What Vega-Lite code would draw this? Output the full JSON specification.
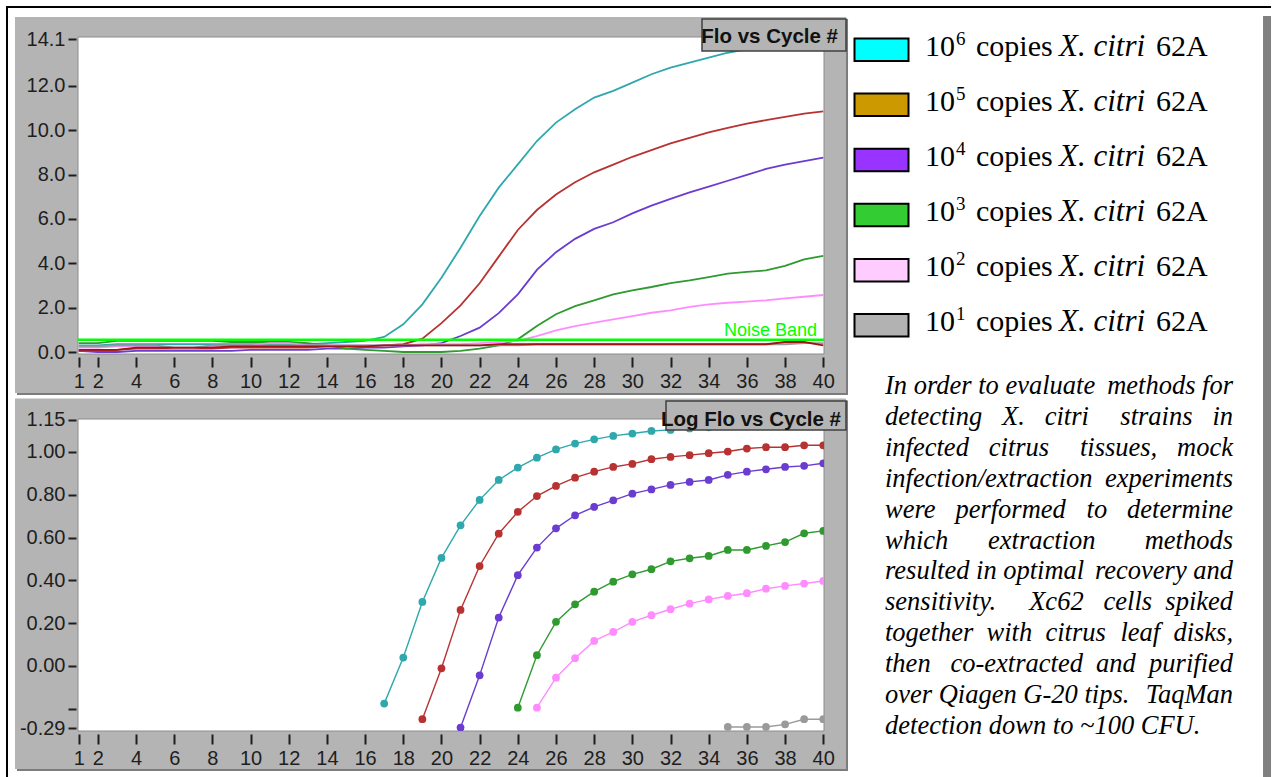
{
"$schema":"https://vega.github.io/schema/vega-lite/v6.json",
"padding":{"left":5,"top":5,"right":0,"bottom":0},
"background":"white",
"config":{"view":{"stroke":null},
 "axis":{"labelFont":"Liberation Sans","labelFontSize":20,"labelColor":"#1e1e1e","tickColor":"#1e1e1e","tickWidth":2,"domain":false,"grid":false,"zindex":1,"labelOverlap":false,"labelFlush":false}},
"datasets":{
"flo":[
{"c":1,"s":"e6","v":0.3},{"c":2,"s":"e6","v":0.3},{"c":3,"s":"e6","v":0.35},{"c":4,"s":"e6","v":0.35},{"c":5,"s":"e6","v":0.35},{"c":6,"s":"e6","v":0.35},{"c":7,"s":"e6","v":0.35},{"c":8,"s":"e6","v":0.35},{"c":9,"s":"e6","v":0.35},{"c":10,"s":"e6","v":0.35},{"c":11,"s":"e6","v":0.35},{"c":12,"s":"e6","v":0.35},{"c":13,"s":"e6","v":0.35},{"c":14,"s":"e6","v":0.4},{"c":15,"s":"e6","v":0.45},{"c":16,"s":"e6","v":0.5},{"c":17,"s":"e6","v":0.68},{"c":18,"s":"e6","v":1.25},{"c":19,"s":"e6","v":2.15},{"c":20,"s":"e6","v":3.35},{"c":21,"s":"e6","v":4.7},{"c":22,"s":"e6","v":6.13},{"c":23,"s":"e6","v":7.41},{"c":24,"s":"e6","v":8.46},{"c":25,"s":"e6","v":9.51},{"c":26,"s":"e6","v":10.34},{"c":27,"s":"e6","v":10.94},{"c":28,"s":"e6","v":11.47},{"c":29,"s":"e6","v":11.77},{"c":30,"s":"e6","v":12.14},{"c":31,"s":"e6","v":12.52},{"c":32,"s":"e6","v":12.82},{"c":33,"s":"e6","v":13.04},{"c":34,"s":"e6","v":13.27},{"c":35,"s":"e6","v":13.49},{"c":36,"s":"e6","v":13.65},{"c":37,"s":"e6","v":13.8},{"c":38,"s":"e6","v":13.92},{"c":39,"s":"e6","v":14.02},{"c":40,"s":"e6","v":14.1},
{"c":1,"s":"e5","v":0.05},{"c":2,"s":"e5","v":0.05},{"c":3,"s":"e5","v":0.1},{"c":4,"s":"e5","v":0.15},{"c":5,"s":"e5","v":0.15},{"c":6,"s":"e5","v":0.15},{"c":7,"s":"e5","v":0.15},{"c":8,"s":"e5","v":0.15},{"c":9,"s":"e5","v":0.2},{"c":10,"s":"e5","v":0.2},{"c":11,"s":"e5","v":0.2},{"c":12,"s":"e5","v":0.2},{"c":13,"s":"e5","v":0.2},{"c":14,"s":"e5","v":0.25},{"c":15,"s":"e5","v":0.25},{"c":16,"s":"e5","v":0.25},{"c":17,"s":"e5","v":0.3},{"c":18,"s":"e5","v":0.35},{"c":19,"s":"e5","v":0.6},{"c":20,"s":"e5","v":1.3},{"c":21,"s":"e5","v":2.1},{"c":22,"s":"e5","v":3.1},{"c":23,"s":"e5","v":4.3},{"c":24,"s":"e5","v":5.5},{"c":25,"s":"e5","v":6.4},{"c":26,"s":"e5","v":7.1},{"c":27,"s":"e5","v":7.65},{"c":28,"s":"e5","v":8.1},{"c":29,"s":"e5","v":8.45},{"c":30,"s":"e5","v":8.8},{"c":31,"s":"e5","v":9.1},{"c":32,"s":"e5","v":9.4},{"c":33,"s":"e5","v":9.65},{"c":34,"s":"e5","v":9.9},{"c":35,"s":"e5","v":10.1},{"c":36,"s":"e5","v":10.3},{"c":37,"s":"e5","v":10.45},{"c":38,"s":"e5","v":10.6},{"c":39,"s":"e5","v":10.75},{"c":40,"s":"e5","v":10.85},
{"c":1,"s":"e4","v":0.05},{"c":2,"s":"e4","v":0},{"c":3,"s":"e4","v":0},{"c":4,"s":"e4","v":0.05},{"c":5,"s":"e4","v":0.05},{"c":6,"s":"e4","v":0.05},{"c":7,"s":"e4","v":0.05},{"c":8,"s":"e4","v":0.05},{"c":9,"s":"e4","v":0.05},{"c":10,"s":"e4","v":0.1},{"c":11,"s":"e4","v":0.1},{"c":12,"s":"e4","v":0.1},{"c":13,"s":"e4","v":0.1},{"c":14,"s":"e4","v":0.15},{"c":15,"s":"e4","v":0.15},{"c":16,"s":"e4","v":0.2},{"c":17,"s":"e4","v":0.2},{"c":18,"s":"e4","v":0.25},{"c":19,"s":"e4","v":0.3},{"c":20,"s":"e4","v":0.4},{"c":21,"s":"e4","v":0.72},{"c":22,"s":"e4","v":1.1},{"c":23,"s":"e4","v":1.75},{"c":24,"s":"e4","v":2.6},{"c":25,"s":"e4","v":3.7},{"c":26,"s":"e4","v":4.5},{"c":27,"s":"e4","v":5.1},{"c":28,"s":"e4","v":5.55},{"c":29,"s":"e4","v":5.85},{"c":30,"s":"e4","v":6.25},{"c":31,"s":"e4","v":6.6},{"c":32,"s":"e4","v":6.9},{"c":33,"s":"e4","v":7.2},{"c":34,"s":"e4","v":7.45},{"c":35,"s":"e4","v":7.72},{"c":36,"s":"e4","v":7.98},{"c":37,"s":"e4","v":8.25},{"c":38,"s":"e4","v":8.45},{"c":39,"s":"e4","v":8.6},{"c":40,"s":"e4","v":8.76},
{"c":1,"s":"e3","v":0.4},{"c":2,"s":"e3","v":0.4},{"c":3,"s":"e3","v":0.5},{"c":4,"s":"e3","v":0.5},{"c":5,"s":"e3","v":0.5},{"c":6,"s":"e3","v":0.5},{"c":7,"s":"e3","v":0.5},{"c":8,"s":"e3","v":0.5},{"c":9,"s":"e3","v":0.45},{"c":10,"s":"e3","v":0.45},{"c":11,"s":"e3","v":0.45},{"c":12,"s":"e3","v":0.45},{"c":13,"s":"e3","v":0.4},{"c":14,"s":"e3","v":0.3},{"c":15,"s":"e3","v":0.15},{"c":16,"s":"e3","v":0.1},{"c":17,"s":"e3","v":0.05},{"c":18,"s":"e3","v":0},{"c":19,"s":"e3","v":0},{"c":20,"s":"e3","v":0},{"c":21,"s":"e3","v":0.05},{"c":22,"s":"e3","v":0.15},{"c":23,"s":"e3","v":0.3},{"c":24,"s":"e3","v":0.57},{"c":25,"s":"e3","v":1.17},{"c":26,"s":"e3","v":1.7},{"c":27,"s":"e3","v":2.07},{"c":28,"s":"e3","v":2.33},{"c":29,"s":"e3","v":2.6},{"c":30,"s":"e3","v":2.78},{"c":31,"s":"e3","v":2.93},{"c":32,"s":"e3","v":3.1},{"c":33,"s":"e3","v":3.23},{"c":34,"s":"e3","v":3.38},{"c":35,"s":"e3","v":3.53},{"c":36,"s":"e3","v":3.61},{"c":37,"s":"e3","v":3.68},{"c":38,"s":"e3","v":3.88},{"c":39,"s":"e3","v":4.18},{"c":40,"s":"e3","v":4.33},
{"c":1,"s":"e2","v":0.2},{"c":2,"s":"e2","v":0.2},{"c":3,"s":"e2","v":0.25},{"c":4,"s":"e2","v":0.25},{"c":5,"s":"e2","v":0.25},{"c":6,"s":"e2","v":0.2},{"c":7,"s":"e2","v":0.2},{"c":8,"s":"e2","v":0.25},{"c":9,"s":"e2","v":0.3},{"c":10,"s":"e2","v":0.3},{"c":11,"s":"e2","v":0.4},{"c":12,"s":"e2","v":0.4},{"c":13,"s":"e2","v":0.3},{"c":14,"s":"e2","v":0.3},{"c":15,"s":"e2","v":0.3},{"c":16,"s":"e2","v":0.3},{"c":17,"s":"e2","v":0.3},{"c":18,"s":"e2","v":0.3},{"c":19,"s":"e2","v":0.35},{"c":20,"s":"e2","v":0.35},{"c":21,"s":"e2","v":0.35},{"c":22,"s":"e2","v":0.4},{"c":23,"s":"e2","v":0.45},{"c":24,"s":"e2","v":0.5},{"c":25,"s":"e2","v":0.72},{"c":26,"s":"e2","v":0.98},{"c":27,"s":"e2","v":1.17},{"c":28,"s":"e2","v":1.32},{"c":29,"s":"e2","v":1.47},{"c":30,"s":"e2","v":1.62},{"c":31,"s":"e2","v":1.77},{"c":32,"s":"e2","v":1.88},{"c":33,"s":"e2","v":2.03},{"c":34,"s":"e2","v":2.15},{"c":35,"s":"e2","v":2.22},{"c":36,"s":"e2","v":2.27},{"c":37,"s":"e2","v":2.33},{"c":38,"s":"e2","v":2.42},{"c":39,"s":"e2","v":2.49},{"c":40,"s":"e2","v":2.57},
{"c":1,"s":"e1","v":0.25},{"c":2,"s":"e1","v":0.25},{"c":3,"s":"e1","v":0.3},{"c":4,"s":"e1","v":0.3},{"c":5,"s":"e1","v":0.3},{"c":6,"s":"e1","v":0.2},{"c":7,"s":"e1","v":0.2},{"c":8,"s":"e1","v":0.3},{"c":9,"s":"e1","v":0.3},{"c":10,"s":"e1","v":0.3},{"c":11,"s":"e1","v":0.3},{"c":12,"s":"e1","v":0.3},{"c":13,"s":"e1","v":0.3},{"c":14,"s":"e1","v":0.3},{"c":15,"s":"e1","v":0.3},{"c":16,"s":"e1","v":0.3},{"c":17,"s":"e1","v":0.3},{"c":18,"s":"e1","v":0.3},{"c":19,"s":"e1","v":0.3},{"c":20,"s":"e1","v":0.3},{"c":21,"s":"e1","v":0.3},{"c":22,"s":"e1","v":0.3},{"c":23,"s":"e1","v":0.3},{"c":24,"s":"e1","v":0.3},{"c":25,"s":"e1","v":0.35},{"c":26,"s":"e1","v":0.35},{"c":27,"s":"e1","v":0.35},{"c":28,"s":"e1","v":0.35},{"c":29,"s":"e1","v":0.35},{"c":30,"s":"e1","v":0.35},{"c":31,"s":"e1","v":0.35},{"c":32,"s":"e1","v":0.35},{"c":33,"s":"e1","v":0.35},{"c":34,"s":"e1","v":0.35},{"c":35,"s":"e1","v":0.35},{"c":36,"s":"e1","v":0.35},{"c":37,"s":"e1","v":0.35},{"c":38,"s":"e1","v":0.35},{"c":39,"s":"e1","v":0.4},{"c":40,"s":"e1","v":0.4},
{"c":1,"s":"ntc","v":0.1},{"c":2,"s":"ntc","v":0.1},{"c":3,"s":"ntc","v":0.1},{"c":4,"s":"ntc","v":0.2},{"c":5,"s":"ntc","v":0.2},{"c":6,"s":"ntc","v":0.2},{"c":7,"s":"ntc","v":0.2},{"c":8,"s":"ntc","v":0.2},{"c":9,"s":"ntc","v":0.25},{"c":10,"s":"ntc","v":0.25},{"c":11,"s":"ntc","v":0.25},{"c":12,"s":"ntc","v":0.25},{"c":13,"s":"ntc","v":0.25},{"c":14,"s":"ntc","v":0.25},{"c":15,"s":"ntc","v":0.25},{"c":16,"s":"ntc","v":0.25},{"c":17,"s":"ntc","v":0.3},{"c":18,"s":"ntc","v":0.3},{"c":19,"s":"ntc","v":0.3},{"c":20,"s":"ntc","v":0.3},{"c":21,"s":"ntc","v":0.3},{"c":22,"s":"ntc","v":0.3},{"c":23,"s":"ntc","v":0.35},{"c":24,"s":"ntc","v":0.35},{"c":25,"s":"ntc","v":0.35},{"c":26,"s":"ntc","v":0.35},{"c":27,"s":"ntc","v":0.35},{"c":28,"s":"ntc","v":0.35},{"c":29,"s":"ntc","v":0.35},{"c":30,"s":"ntc","v":0.35},{"c":31,"s":"ntc","v":0.35},{"c":32,"s":"ntc","v":0.35},{"c":33,"s":"ntc","v":0.35},{"c":34,"s":"ntc","v":0.35},{"c":35,"s":"ntc","v":0.35},{"c":36,"s":"ntc","v":0.35},{"c":37,"s":"ntc","v":0.35},{"c":38,"s":"ntc","v":0.45},{"c":39,"s":"ntc","v":0.45},{"c":40,"s":"ntc","v":0.3}
],
"log":[
{"c":17,"s":"e6","v":-0.176},{"c":18,"s":"e6","v":0.039},{"c":19,"s":"e6","v":0.299},{"c":20,"s":"e6","v":0.505},{"c":21,"s":"e6","v":0.657},{"c":22,"s":"e6","v":0.776},{"c":23,"s":"e6","v":0.869},{"c":24,"s":"e6","v":0.927},{"c":25,"s":"e6","v":0.973},{"c":26,"s":"e6","v":1.012},{"c":27,"s":"e6","v":1.039},{"c":28,"s":"e6","v":1.059},{"c":29,"s":"e6","v":1.075},{"c":30,"s":"e6","v":1.086},{"c":31,"s":"e6","v":1.098},{"c":32,"s":"e6","v":1.103},{"c":33,"s":"e6","v":1.11},{"c":34,"s":"e6","v":1.115},{"c":35,"s":"e6","v":1.12},{"c":36,"s":"e6","v":1.125},{"c":37,"s":"e6","v":1.13},{"c":38,"s":"e6","v":1.135},{"c":39,"s":"e6","v":1.14},{"c":40,"s":"e6","v":1.145},
{"c":19,"s":"e5","v":-0.249},{"c":20,"s":"e5","v":-0.011},{"c":21,"s":"e5","v":0.262},{"c":22,"s":"e5","v":0.467},{"c":23,"s":"e5","v":0.618},{"c":24,"s":"e5","v":0.72},{"c":25,"s":"e5","v":0.794},{"c":26,"s":"e5","v":0.841},{"c":27,"s":"e5","v":0.88},{"c":28,"s":"e5","v":0.908},{"c":29,"s":"e5","v":0.93},{"c":30,"s":"e5","v":0.944},{"c":31,"s":"e5","v":0.966},{"c":32,"s":"e5","v":0.977},{"c":33,"s":"e5","v":0.985},{"c":34,"s":"e5","v":0.994},{"c":35,"s":"e5","v":1.002},{"c":36,"s":"e5","v":1.016},{"c":37,"s":"e5","v":1.022},{"c":38,"s":"e5","v":1.022},{"c":39,"s":"e5","v":1.031},{"c":40,"s":"e5","v":1.031},
{"c":21,"s":"e4","v":-0.288},{"c":22,"s":"e4","v":-0.044},{"c":23,"s":"e4","v":0.226},{"c":24,"s":"e4","v":0.424},{"c":25,"s":"e4","v":0.553},{"c":26,"s":"e4","v":0.643},{"c":27,"s":"e4","v":0.704},{"c":28,"s":"e4","v":0.743},{"c":29,"s":"e4","v":0.774},{"c":30,"s":"e4","v":0.805},{"c":31,"s":"e4","v":0.825},{"c":32,"s":"e4","v":0.846},{"c":33,"s":"e4","v":0.86},{"c":34,"s":"e4","v":0.869},{"c":35,"s":"e4","v":0.893},{"c":36,"s":"e4","v":0.908},{"c":37,"s":"e4","v":0.919},{"c":38,"s":"e4","v":0.93},{"c":39,"s":"e4","v":0.935},{"c":40,"s":"e4","v":0.947},
{"c":24,"s":"e3","v":-0.195},{"c":25,"s":"e3","v":0.05},{"c":26,"s":"e3","v":0.206},{"c":27,"s":"e3","v":0.288},{"c":28,"s":"e3","v":0.347},{"c":29,"s":"e3","v":0.394},{"c":30,"s":"e3","v":0.428},{"c":31,"s":"e3","v":0.452},{"c":32,"s":"e3","v":0.489},{"c":33,"s":"e3","v":0.503},{"c":34,"s":"e3","v":0.514},{"c":35,"s":"e3","v":0.542},{"c":36,"s":"e3","v":0.542},{"c":37,"s":"e3","v":0.561},{"c":38,"s":"e3","v":0.579},{"c":39,"s":"e3","v":0.62},{"c":40,"s":"e3","v":0.631},
{"c":25,"s":"e2","v":-0.195},{"c":26,"s":"e2","v":-0.055},{"c":27,"s":"e2","v":0.036},{"c":28,"s":"e2","v":0.117},{"c":29,"s":"e2","v":0.159},{"c":30,"s":"e2","v":0.206},{"c":31,"s":"e2","v":0.237},{"c":32,"s":"e2","v":0.265},{"c":33,"s":"e2","v":0.291},{"c":34,"s":"e2","v":0.311},{"c":35,"s":"e2","v":0.327},{"c":36,"s":"e2","v":0.34},{"c":37,"s":"e2","v":0.361},{"c":38,"s":"e2","v":0.374},{"c":39,"s":"e2","v":0.385},{"c":40,"s":"e2","v":0.397},
{"c":35,"s":"e1","v":-0.285},{"c":36,"s":"e1","v":-0.285},{"c":37,"s":"e1","v":-0.285},{"c":38,"s":"e1","v":-0.273},{"c":39,"s":"e1","v":-0.249},{"c":40,"s":"e1","v":-0.249}
],
"leg":[{"row":1,"exp":"6"},{"row":2,"exp":"5"},{"row":3,"exp":"4"},{"row":4,"exp":"3"},{"row":5,"exp":"2"},{"row":6,"exp":"1"}],
"para":[
{"line":1,"L":"In order to evaluate","R":"methods for"},
{"line":2,"L":"detecting\u00a0\u00a0\u00a0X.\u00a0\u00a0\u00a0citri","R":"strains\u00a0\u00a0\u00a0in"},
{"line":3,"L":"infected\u00a0\u00a0\u00a0citrus","R":"tissues,\u00a0\u00a0\u00a0mock"},
{"line":4,"L":"infection/extraction","R":"experiments"},
{"line":5,"L":"were\u00a0\u00a0\u00a0performed","R":"to\u00a0\u00a0\u00a0determine"},
{"line":6,"L":"which\u00a0\u00a0\u00a0\u00a0\u00a0\u00a0extraction","R":"methods"},
{"line":7,"L":"resulted in optimal","R":"recovery and"},
{"line":8,"L":"sensitivity.","R":"Xc62\u00a0\u00a0\u00a0cells\u00a0\u00a0spiked"},
{"line":9,"L":"together\u00a0\u00a0with\u00a0\u00a0citrus","R":"leaf\u00a0\u00a0disks,"},
{"line":10,"L":"then\u00a0\u00a0\u00a0co-extracted","R":"and\u00a0\u00a0purified"},
{"line":11,"L":"over Qiagen G-20 tips.","R":"TaqMan"},
{"line":12,"L":"detection down to ~100 CFU.","R":""}
]
},
"spacing":65,
"bounds":"flush",
"vconcat":[
 {"width":746,"height":317,
  "resolve":{"scale":{"y":"independent"}},
  "layer":[
   {"layer":[
   {"data":{"values":[{}]},"mark":{"type":"rect","fill":"#000000"},"encoding":{
     "x":{"datum":-2.812,"type":"quantitative","scale":{"domain":[0.96,40.04],"nice":false,"zero":false}},
     "x2":{"datum":63.458},
     "y":{"datum":15.5975,"type":"quantitative","scale":{"domain":[-0.09,14.2],"nice":false,"zero":false}},
     "y2":{"datum":15.5073}}},
   {"data":{"values":[{}]},"mark":{"type":"rect","fill":"#000000"},"encoding":{
     "x":{"datum":-2.812,"type":"quantitative"},"x2":{"datum":-2.707},
     "y":{"datum":15.5975,"type":"quantitative"},"y2":{"datum":-19.204}}},
   {"data":{"values":[{}]},"mark":{"type":"rect","fill":"#808080"},"encoding":{
     "x":{"datum":63.039,"type":"quantitative"},"x2":{"datum":63.458},
     "y":{"datum":15.1467,"type":"quantitative"},"y2":{"datum":-19.204}}},
   {"data":{"values":[{}]},"mark":{"type":"rect","fill":"#7c7c7c"},"encoding":{
     "x":{"datum":-2.236,"type":"quantitative"},"x2":{"datum":41.298},
     "y":{"datum":15.0114,"type":"quantitative"},"y2":{"datum":-1.938}}},
   {"data":{"values":[{}]},"mark":{"type":"rect","fill":"#b4b4b4"},"encoding":{
     "x":{"datum":-2.34,"type":"quantitative"},"x2":{"datum":41.193},
     "y":{"datum":15.1016,"type":"quantitative"},"y2":{"datum":-1.848}}},
   {"data":{"values":[{}]},"mark":{"type":"rect","fill":"#ffffff","stroke":"#8c8c8c","strokeWidth":1},"encoding":{
     "x":{"datum":0.96,"type":"quantitative"},"x2":{"datum":40.04},
     "y":{"datum":14.2,"type":"quantitative"},"y2":{"datum":-0.09}}},
   {"data":{"name":"flo"},"mark":{"type":"line","strokeWidth":1.8,"clip":true},"encoding":{
     "x":{"field":"c","type":"quantitative","scale":{"domain":[0.96,40.04],"nice":false,"zero":false},
       "axis":{"values":[1,2,4,6,8,10,12,14,16,18,20,22,24,26,28,30,32,34,36,38,40],"tickCount":60,"format":"d","title":null,"tickSize":10,"offset":3,"labelPadding":4,"zindex":2,"labelOverlap":false,"labelFlush":false,"labelFont":"Liberation Sans","labelFontSize":20,"labelColor":"#1e1e1e","tickColor":"#1e1e1e","tickWidth":2,"domain":false,"grid":false}},
     "y":{"field":"v","type":"quantitative","scale":{"domain":[-0.09,14.2],"nice":false,"zero":false},
       "axis":{"values":[0,2,4,6,8,10,12,14.1],"tickCount":60,"format":".1f","title":null,"tickSize":8,"offset":2,"labelPadding":3,"zindex":2,"labelOverlap":false,"labelFlush":false,"labelFont":"Liberation Sans","labelFontSize":20,"labelColor":"#1e1e1e","tickColor":"#1e1e1e","tickWidth":2,"domain":false,"grid":false}},
     "color":{"field":"s","type":"nominal","scale":{"domain":["ntc","e1","e2","e3","e4","e5","e6"],"range":["#a01414","#9a9a9a","#ff8cff","#2f9a2f","#6a3ccf","#b83232","#2fa8ad"]},"legend":null}}},
   {"data":{"values":[{}]},"mark":{"type":"rule","color":"#00ff00","strokeWidth":2.5},"encoding":{
     "x":{"datum":0.96,"type":"quantitative"},"x2":{"datum":40.04},
     "y":{"datum":0.55,"type":"quantitative"}}},
   {"data":{"values":[{}]},"mark":{"type":"text","text":"Noise Band","color":"#00ff00","font":"Liberation Sans","fontSize":18,"align":"right","baseline":"alphabetic"},"encoding":{
     "x":{"datum":39.674,"type":"quantitative"},
     "y":{"datum":0.72,"type":"quantitative"}}},
   {"data":{"values":[{}]},"mark":{"type":"rect","fill":"#b4b4b4","stroke":"#404040","strokeWidth":1.5},"encoding":{
     "x":{"datum":33.649,"type":"quantitative"},"x2":{"datum":41.193},
     "y":{"datum":15.0114,"type":"quantitative"},"y2":{"datum":13.569}}},
   {"data":{"values":[{}]},"mark":{"type":"text","text":"Flo vs Cycle #","color":"#111111","font":"Liberation Sans","fontWeight":"bold","fontSize":20.5,"align":"right","baseline":"alphabetic"},"encoding":{
     "x":{"datum":40.774,"type":"quantitative"},
     "y":{"datum":13.93,"type":"quantitative"}}}
   ]},
   {"data":{"name":"leg"},
    "layer":[
    {"mark":{"type":"rect","stroke":"#000000","strokeWidth":2,"yOffset":-17,"y2Offset":5.5},"encoding":{
      "x":{"datum":41.638,"type":"quantitative","scale":{"domain":[0.96,40.04],"nice":false,"zero":false}},"x2":{"datum":44.467},
      "y":{"field":"row","type":"quantitative","scale":{"domain":[0.6642,6.4174],"nice":false,"zero":false,"reverse":true},"axis":null},
      "y2":{"field":"row"},
      "fill":{"field":"exp","type":"nominal","scale":{"domain":["6","5","4","3","2","1"],"range":["#00ffff","#cc9900","#9933ff","#33cc33","#ffccff","#b2b2b2"]},"legend":null}}},
    {"mark":{"type":"text","text":"10","font":"Liberation Serif","fontSize":30,"color":"#000000","align":"left","baseline":"alphabetic"},"encoding":{
      "x":{"datum":45.332,"type":"quantitative"},
      "y":{"field":"row","type":"quantitative","axis":null}}},
    {"mark":{"type":"text","font":"Liberation Serif","fontSize":19,"color":"#000000","align":"left","baseline":"alphabetic","dy":-11},"encoding":{
      "x":{"datum":46.956,"type":"quantitative"},
      "y":{"field":"row","type":"quantitative","axis":null},
      "text":{"field":"exp"}}},
    {"mark":{"type":"text","text":"copies","font":"Liberation Serif","fontSize":30,"color":"#000000","align":"left","baseline":"alphabetic"},"encoding":{
      "x":{"datum":48.004,"type":"quantitative"},
      "y":{"field":"row","type":"quantitative","axis":null}}},
    {"mark":{"type":"text","text":"X. citri","font":"Liberation Serif","fontStyle":"italic","fontSize":31,"color":"#000000","align":"left","baseline":"alphabetic"},"encoding":{
      "x":{"datum":52.352,"type":"quantitative"},
      "y":{"field":"row","type":"quantitative","axis":null}}},
    {"mark":{"type":"text","text":"62A","font":"Liberation Serif","fontSize":30,"color":"#000000","align":"left","baseline":"alphabetic"},"encoding":{
      "x":{"datum":57.433,"type":"quantitative"},
      "y":{"field":"row","type":"quantitative","axis":null}}}
    ]}
  ]},
 {"width":746,"height":312,
  "resolve":{"scale":{"y":"independent"}},
  "layer":[
   {"layer":[
   {"data":{"values":[{}]},"mark":{"type":"rect","fill":"#7c7c7c"},"encoding":{
     "x":{"datum":-2.236,"type":"quantitative","scale":{"domain":[0.96,40.04],"nice":false,"zero":false}},"x2":{"datum":41.298},
     "y":{"datum":1.2404,"type":"quantitative","scale":{"domain":[-0.304,1.154],"nice":false,"zero":false}},"y2":{"datum":-0.4909}}},
   {"data":{"values":[{}]},"mark":{"type":"rect","fill":"#b4b4b4"},"encoding":{
     "x":{"datum":-2.34,"type":"quantitative"},"x2":{"datum":41.193},
     "y":{"datum":1.2498,"type":"quantitative"},"y2":{"datum":-0.4815}}},
   {"data":{"values":[{}]},"mark":{"type":"rect","fill":"#ffffff","stroke":"#8c8c8c","strokeWidth":1},"encoding":{
     "x":{"datum":0.96,"type":"quantitative"},"x2":{"datum":40.04},
     "y":{"datum":1.154,"type":"quantitative"},"y2":{"datum":-0.304}}},
   {"data":{"name":"log"},"mark":{"type":"line","strokeWidth":1.4,"clip":true,"point":{"filled":true,"size":60}},"encoding":{
     "x":{"field":"c","type":"quantitative","scale":{"domain":[0.96,40.04],"nice":false,"zero":false},
       "axis":{"values":[1,2,4,6,8,10,12,14,16,18,20,22,24,26,28,30,32,34,36,38,40],"tickCount":60,"format":"d","title":null,"tickSize":10,"offset":3,"labelPadding":4,"zindex":2,"labelOverlap":false,"labelFlush":false,"labelFont":"Liberation Sans","labelFontSize":20,"labelColor":"#1e1e1e","tickColor":"#1e1e1e","tickWidth":2,"domain":false,"grid":false}},
     "y":{"field":"v","type":"quantitative","scale":{"domain":[-0.304,1.154],"nice":false,"zero":false},
       "axis":{"values":[-0.29,-0.2,0,0.2,0.4,0.6,0.8,1.0,1.15],"tickCount":60,"format":".2f","title":null,"tickSize":8,"offset":2,"labelPadding":3,"zindex":2,"labelOverlap":false,"labelFlush":false,"labelFont":"Liberation Sans","labelFontSize":20,"labelColor":"#1e1e1e","tickColor":"#1e1e1e","tickWidth":2,"domain":false,"grid":false,
         "labelExpr":"datum.value < -0.25 ? '-0.29' : (datum.value < -0.1 ? '' : datum.label)"}},
     "color":{"field":"s","type":"nominal","scale":{"domain":["e1","e2","e3","e4","e5","e6"],"range":["#8c8c8c","#ff8cff","#0a900a","#3a0c9c","#9c0c0c","#139a9c"]},"legend":null}}},
   {"data":{"values":[{}]},"mark":{"type":"rect","fill":"#b4b4b4","stroke":"#404040","strokeWidth":1.5},"encoding":{
     "x":{"datum":31.764,"type":"quantitative"},"x2":{"datum":41.193},
     "y":{"datum":1.2381,"type":"quantitative"},"y2":{"datum":1.1026}}},
   {"data":{"values":[{}]},"mark":{"type":"text","text":"Log Flo vs Cycle #","color":"#111111","font":"Liberation Sans","fontWeight":"bold","fontSize":20.5,"align":"right","baseline":"alphabetic"},"encoding":{
     "x":{"datum":40.931,"type":"quantitative"},
     "y":{"datum":1.1213,"type":"quantitative"}}}
   ]},
   {"data":{"name":"para"},
    "layer":[
    {"mark":{"type":"text","font":"Liberation Serif","fontStyle":"italic","fontSize":26.5,"color":"#000000","align":"left","baseline":"alphabetic"},"encoding":{
      "x":{"datum":43.236,"type":"quantitative","scale":{"domain":[0.96,40.04],"nice":false,"zero":false}},
      "y":{"field":"line","type":"quantitative","scale":{"domain":[1.8006,11.914],"nice":false,"zero":false,"reverse":true},"axis":null},
      "text":{"field":"L"}}},
    {"mark":{"type":"text","font":"Liberation Serif","fontStyle":"italic","fontSize":26.5,"color":"#000000","align":"right","baseline":"alphabetic"},"encoding":{
      "x":{"datum":61.467,"type":"quantitative"},
      "y":{"field":"line","type":"quantitative","axis":null},
      "text":{"field":"R"}}}
    ]}
  ]}
]
}
